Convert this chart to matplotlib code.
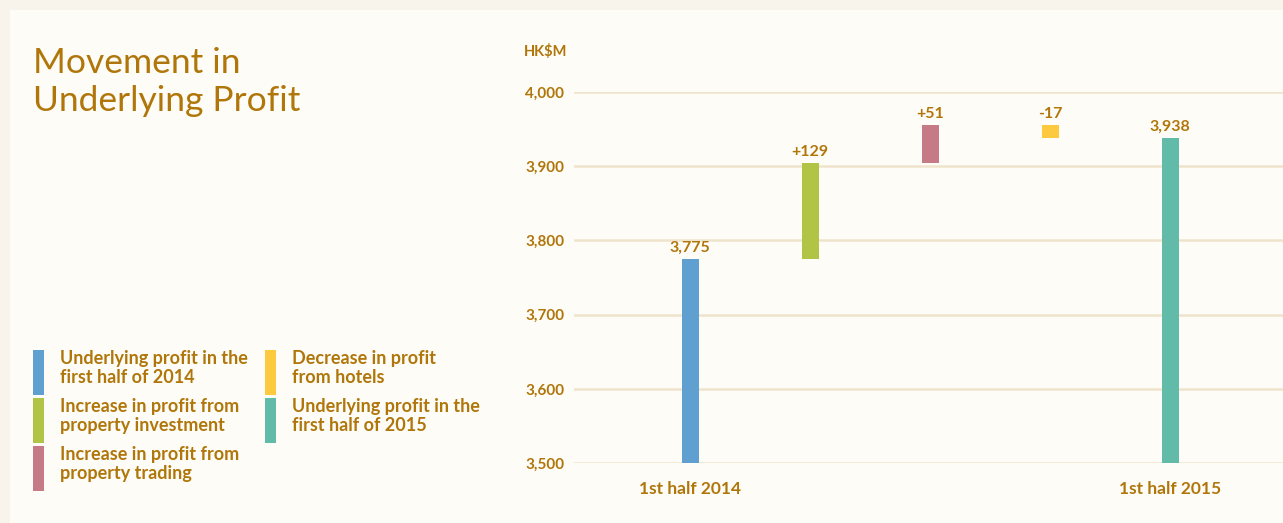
import matplotlib
matplotlib.use("Agg")
import matplotlib.pyplot as plt
from matplotlib.patches import Rectangle

categories = ["1st half 2014", "Property investment", "Property trading", "Hotels", "1st half 2015"]
changes = [3775, 129, 51, -17, 3938]
value_labels = ["3,775", "+129", "+51", "-17", "3,938"]
colors = ["#5fa0d0", "#b2c446", "#c57a86", "#fcc93f", "#62bba8"]
xtick_labels = ["1st half 2014", "", "", "", "1st half 2015"]
yticks = [3500, 3600, 3700, 3800, 3900, 4000]
legend_labels = [
    "Underlying profit in the\nfirst half of 2014",
    "Increase in profit from\nproperty investment",
    "Increase in profit from\nproperty trading",
    "Decrease in profit\nfrom hotels",
    "Underlying profit in the\nfirst half of 2015",
]

GOLD = "#b0760a"
W, H = 1283, 523
fig = plt.figure(figsize=(W / 100, H / 100), dpi=100)
fig.patch.set_facecolor("#f8f4ec")
fig.add_artist(Rectangle((10 / W, 0), 1, 1 - 10 / H, transform=fig.transFigure,
                         facecolor="#fdfcf7", edgecolor="none", zorder=0))

# waterfall bottoms/tops
bottoms, tops = [], []
running = 0
for i, c in enumerate(changes):
    if i == 0 or i == len(changes) - 1:
        b, t = 3500, c
        running = c
    else:
        b, t = running, running + c
        running = t
    bottoms.append(min(b, t))
    tops.append(max(b, t))

ax = fig.add_axes([574 / W, (H - 463) / H, (W - 574) / W, (463 - 92) / H])
ax.set_facecolor("none")
xs = list(range(len(categories)))
ax.bar(xs, [t - b for t, b in zip(tops, bottoms)], bottom=bottoms, width=0.142,
       color=colors, zorder=3)
for x, t, lab in zip(xs, tops, value_labels):
    ax.annotate(lab, (x, t), xytext=(0, 3), textcoords="offset points",
                ha="center", va="bottom", fontsize=11.5, fontweight="bold",
                color=GOLD, family="Lato")

ax.set_xlim(-0.967, 4.94)
ax.set_ylim(3500, 4000)
ax.set_yticks(yticks)
ax.set_yticklabels([f"{v:,}" for v in yticks])
ax.grid(axis="y", color="#efe3cc", linewidth=1.8, zorder=0)
ax.set_axisbelow(True)
for s in ax.spines.values():
    s.set_visible(False)
ax.tick_params(axis="y", length=0, pad=7, labelsize=11, labelcolor=GOLD)
ax.tick_params(axis="x", length=0, pad=13, labelsize=12.5, labelcolor=GOLD)
ax.set_xticks(xs)
ax.set_xticklabels(xtick_labels)
for lab in ax.get_yticklabels() + ax.get_xticklabels():
    lab.set_fontweight("bold")
    lab.set_family("Lato")
ax.text(567 / W, (H - 52) / H, "HK$M", transform=fig.transFigure, ha="right",
        va="center", fontsize=10.5, fontweight="bold", color=GOLD, family="Lato")

# title
fig.text(33 / W, (H - 82) / H, "Movement in\nUnderlying Profit", ha="left", va="center",
         fontsize=25.5, color=GOLD, family="Lato", linespacing=1.2)

# legend
pos = [(33, 350), (33, 398), (33, 446), (265, 350), (265, 398)]
for (px, py), col, lab in zip(pos, colors, legend_labels):
    fig.add_artist(Rectangle((px / W, (H - py - 45) / H), 11 / W, 45 / H,
                             transform=fig.transFigure, facecolor=col,
                             edgecolor="none", zorder=2))
    fig.text((px + 27) / W, (H - py - 18) / H, lab, ha="left", va="center",
             fontsize=13, fontweight="bold", color=GOLD, family="Lato",
             linespacing=1.1)

fig.savefig("out.png", dpi=100, facecolor=fig.get_facecolor())
